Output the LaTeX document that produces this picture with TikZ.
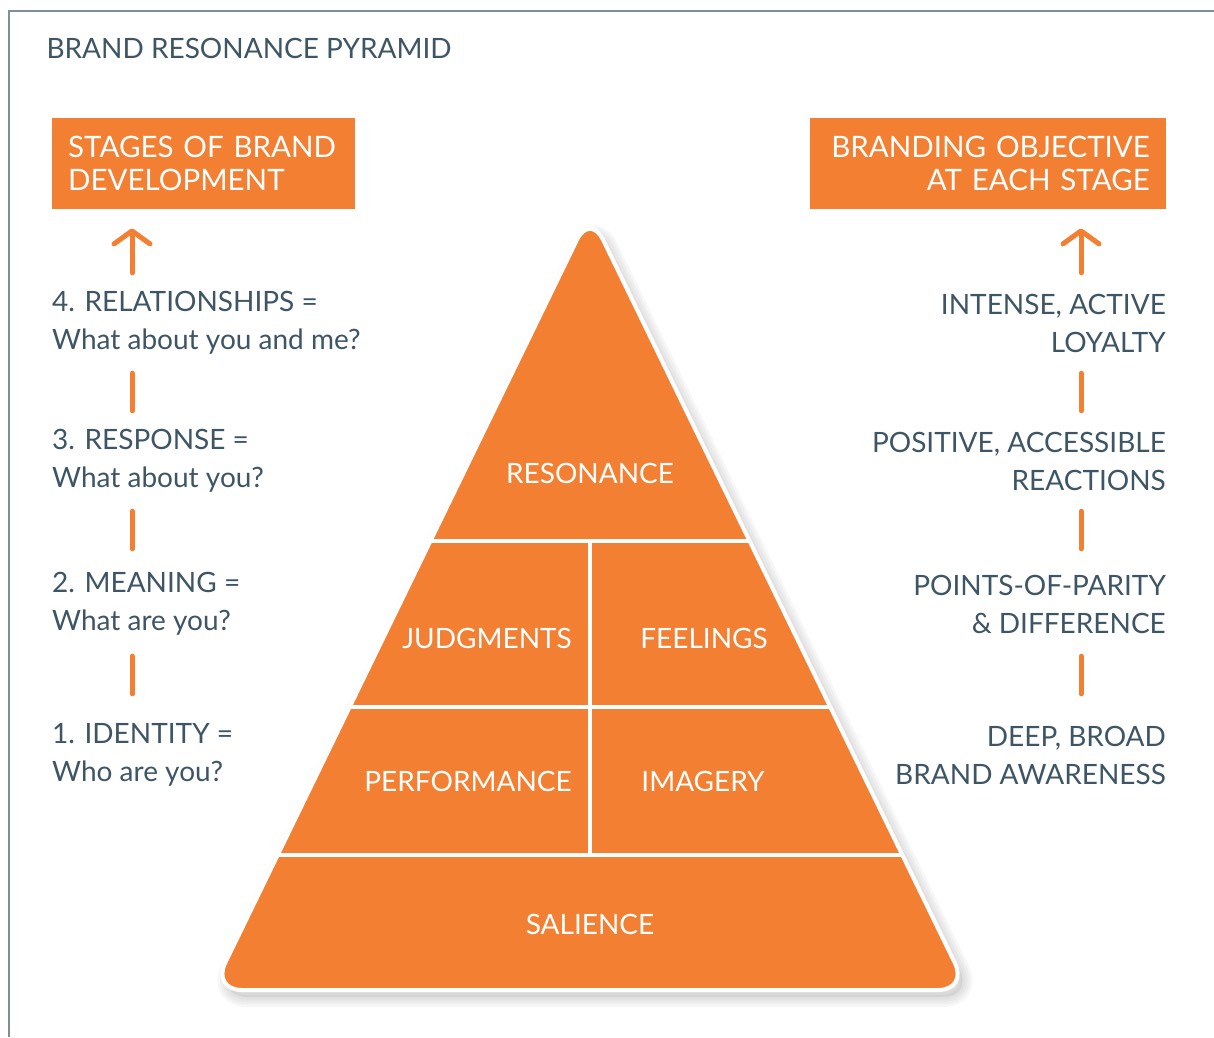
\documentclass[tikz,border=0pt]{standalone}
\usepackage{fontspec}
\setmainfont{Lato}
\usetikzlibrary{arrows.meta}

\definecolor{brandorange}{HTML}{F37F32}
\definecolor{slate}{HTML}{3E5565}
\definecolor{framegrey}{HTML}{7F8E99}

\tikzset{
  pyramid outline/.style={rounded corners=30pt,
    insert path={(590,990) -- (968,990) -- (590,213) -- (212,990) -- cycle}},
  stage/.style={text=slate, font=\fontsize{28}{38}\selectfont,
    inner sep=0pt, minimum height=66pt},
  headbox/.style={fill=brandorange, text=white, font=\fontsize{29.5}{33}\selectfont,
    minimum height=91pt, inner xsep=16pt, inner ysep=0pt},
  level/.style={text=white, font=\fontsize{28}{30}\selectfont},
  bar/.style={brandorange, line width=5pt, line cap=round},
  uparrow/.style={bar, -{Straight Barb[round, length=13pt, width=36pt]}},
  divider/.style={white, line width=4pt}
}

\begin{document}
\begin{tikzpicture}[x=1pt, y=-1pt]
  \useasboundingbox (0,0) rectangle (1214,1037);

  % frame and title
  \draw[framegrey, line width=2pt] (9,1037) -- (9,11) -- (1214,11);
  \node[anchor=west, text=slate, font=\fontsize{28}{30}\selectfont] (title) at (43,48)
    {BRAND RESONANCE PYRAMID};

  % Headings
  \node[headbox, anchor=north west, text width=271pt, align=left] (stages) at (52,118)
    {STAGES OF BRAND\\DEVELOPMENT};
  \node[headbox, anchor=north east, text width=324pt, align=right] (goals) at (1166,118)
    {BRANDING OBJECTIVE\\AT EACH STAGE};

  % Stages on the left
  \node[stage, anchor=west, align=left] (s4) at (52,323) {4. RELATIONSHIPS =\\What about you and me?};
  \node[stage, anchor=west, align=left] (s3) at (52,461) {3. RESPONSE =\\What about you?};
  \node[stage, anchor=west, align=left] (s2) at (52,604) {2. MEANING =\\What are you?};
  \node[stage, anchor=west, align=left] (s1) at (52,755) {1. IDENTITY =\\Who are you?};

  % Objectives on the right
  \node[stage, anchor=east, align=right] (o4) at (1166,323) {INTENSE, ACTIVE\\LOYALTY};
  \node[stage, anchor=east, align=right] (o3) at (1166,461) {POSITIVE, ACCESSIBLE\\REACTIONS};
  \node[stage, anchor=east, align=right] (o2) at (1166,604) {POINTS-OF-PARITY\\\& DIFFERENCE};
  \node[stage, anchor=east, align=right] (o1) at (1166,755) {DEEP, BROAD\\BRAND AWARENESS};

  % Arrows and bars
  \coordinate (lx) at (132,0);
  \coordinate (rx) at (1081,0);
  \draw[uparrow, shorten <=17pt, shorten >=19pt] (s4.north -| lx) -- (stages.south -| lx);
  \draw[uparrow, shorten <=17pt, shorten >=19pt] (o4.north -| rx) -- (goals.south -| rx);
  \foreach \a/\b/\s/\e in {4/3/17/17, 3/2/17/22, 2/1/19/28} {
    \draw[bar, shorten <=\s pt, shorten >=\e pt] (s\a.south -| lx) -- (s\b.north -| lx);
    \draw[bar, shorten <=\s pt, shorten >=\e pt] (o\a.south -| rx) -- (o\b.north -| rx);
  }

  % Soft shadow under the pyramid
  \begin{scope}[shift={(5,7)}]
    \foreach \w in {20,15,10,5}
      \draw[black, opacity=0.03, line width=\w pt, line join=round, pyramid outline];
    \fill[black, opacity=0.06, pyramid outline];
  \end{scope}

  % Pyramid
  \fill[brandorange, pyramid outline];
  \begin{scope}
    \clip[pyramid outline];
    \draw[divider] (200,541) -- (980,541);
    \draw[divider] (200,707) -- (980,707);
    \draw[divider] (200,855) -- (980,855);
    \draw[divider] (590,541) -- (590,855);
  \end{scope}
  \draw[white, line width=4pt, pyramid outline];

  \node[level] (resonance) at (590,473) {RESONANCE};
  \node[level] (judgments) at (487,638) {JUDGMENTS};
  \node[level] (feelings) at (704,638) {FEELINGS};
  \node[level] (performance) at (468,781) {PERFORMANCE};
  \node[level] (imagery) at (703,781) {IMAGERY};
  \node[level] (salience) at (590,924) {SALIENCE};
\end{tikzpicture}
\end{document}
